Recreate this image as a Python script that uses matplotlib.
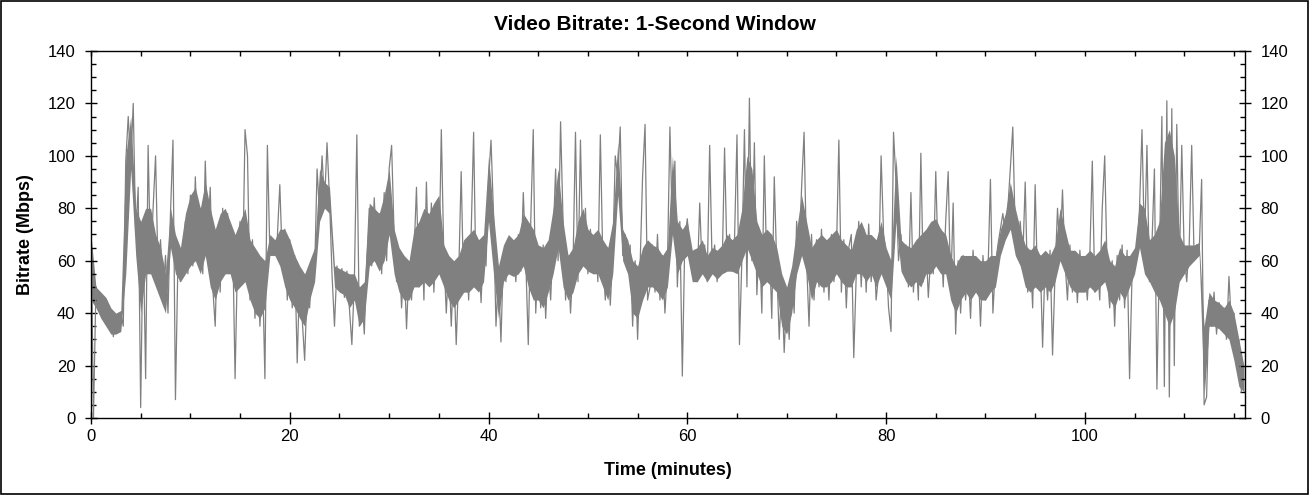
import numpy as np
import matplotlib
matplotlib.use('Agg')
import matplotlib.pyplot as plt
from matplotlib.ticker import MultipleLocator
from matplotlib.patches import Rectangle

plt.rcParams['font.family'] = ['Liberation Sans', 'DejaVu Sans']

# bitrate (Mbps), one value every quarter minute (peaks and dips)
step_min = 0.25
bitrate = [
    # 0 - 5 min
    75, 0, 50, 44, 47, 40, 45, 36, 41, 31, 38, 33, 40, 35, 98, 115, 96, 120, 70, 88,
    # 5 - 10
    4, 72, 15, 104, 58, 80, 100, 55, 68, 45, 62, 40, 78, 106, 7, 60, 52, 63, 75, 55,
    # 10 - 15
    85, 58, 92, 62, 80, 55, 98, 68, 88, 50, 35, 72, 48, 80, 55, 78, 58, 70, 15, 62,
    # 15 - 20
    75, 52, 110, 100, 45, 68, 38, 62, 35, 58, 15, 104, 63, 68, 64, 69, 89, 60, 72, 45,
    # 20 - 25
    68, 42, 62, 21, 55, 38, 22, 50, 42, 60, 55, 95, 78, 100, 82, 105, 84, 55, 35, 58,
    # 25 - 30
    50, 57, 46, 56, 42, 28, 52, 108, 35, 48, 32, 60, 80, 58, 84, 62, 78, 55, 86, 60,
    # 30 - 35
    95, 104, 70, 52, 64, 42, 60, 34, 58, 45, 62, 88, 50, 75, 45, 90, 55, 82, 48, 70,
    # 35 - 40
    55, 110, 62, 40, 60, 35, 58, 28, 55, 94, 48, 66, 45, 70, 109, 50, 66, 44, 68, 58,
    # 40 - 45
    90, 106, 78, 35, 55, 29, 62, 52, 68, 55, 66, 52, 70, 56, 86, 60, 28, 75, 110, 40,
    # 45 - 50
    62, 42, 66, 38, 60, 45, 68, 95, 60, 113, 75, 45, 62, 40, 58, 109, 52, 106, 60, 80,
    # 50 - 55
    55, 72, 58, 70, 52, 108, 60, 45, 65, 43, 62, 100, 92, 111, 62, 70, 58, 66, 35, 60,
    # 55 - 60
    30, 58, 92, 112, 45, 50, 66, 48, 70, 45, 62, 40, 58, 111, 72, 98, 50, 75, 16, 68,
    # 60 - 65
    76, 62, 55, 64, 52, 82, 56, 66, 52, 104, 58, 66, 52, 64, 56, 103, 60, 70, 56, 68,
    # 65 - 70
    108, 28, 62, 110, 50, 122, 60, 105, 47, 70, 40, 100, 55, 68, 38, 92, 58, 30, 52, 25,
    # 70 - 75
    48, 30, 56, 40, 75, 62, 88, 109, 60, 35, 70, 45, 68, 50, 72, 48, 66, 45, 70, 52,
    # 75 - 80
    62, 106, 48, 68, 42, 65, 70, 23, 55, 75, 50, 72, 48, 74, 52, 68, 45, 55, 100, 70,
    # 80 - 85
    62, 42, 33, 109, 90, 60, 70, 55, 66, 50, 86, 48, 64, 45, 101, 52, 68, 46, 62, 55,
    # 85 - 90
    94, 58, 72, 50, 75, 94, 48, 82, 32, 60, 40, 62, 45, 58, 38, 64, 48, 60, 35, 62,
    # 90 - 95
    45, 55, 91, 40, 58, 66, 72, 78, 70, 80, 95, 111, 70, 62, 75, 60, 90, 48, 64, 42,
    # 95 - 100
    89, 50, 62, 27, 60, 45, 64, 24, 55, 80, 62, 87, 60, 45, 66, 48, 62, 44, 64, 50,
    # 100 - 105
    58, 45, 62, 98, 48, 60, 45, 80, 100, 55, 42, 60, 35, 62, 45, 66, 42, 64, 15, 55,
    # 105 - 110
    58, 62, 80, 110, 65, 104, 52, 66, 95, 11, 60, 115, 12, 121, 8, 118, 20, 112, 55, 104,
    # 110 - 115
    62, 52, 66, 104, 60, 66, 63, 91, 5, 8, 45, 35, 48, 32, 44, 36, 42, 30, 54, 35,
    # 115 - end
    40, 20, 30, 10,
]

# dense core of the trace, low / high edge every half minute
band_step_min = 0.5
band_low = [
    45, 42, 38, 35, 32, 32, 33, 55, 95, 62,
    40, 55, 55, 50, 45, 40, 65, 55, 52, 55,
    58, 60, 55, 62, 50, 45, 52, 55, 55, 48,
    50, 52, 45, 40, 38, 42, 62, 62, 58, 50,
    45, 42, 38, 35, 45, 52, 75, 80, 78, 50,
    48, 47, 42, 45, 35, 38, 58, 60, 56, 60,
    70, 55, 48, 45, 45, 50, 50, 52, 50, 52,
    55, 50, 45, 42, 45, 48, 48, 50, 48, 52,
    75, 55, 38, 52, 55, 54, 55, 58, 50, 45,
    45, 42, 48, 55, 65, 50, 45, 48, 55, 58,
    56, 55, 55, 50, 45, 55, 85, 60, 55, 40,
    38, 45, 50, 50, 48, 45, 50, 70, 55, 60,
    62, 52, 52, 55, 52, 55, 53, 55, 56, 56,
    55, 60, 65, 60, 55, 50, 52, 50, 48, 35,
    32, 40, 55, 62, 55, 45, 52, 50, 50, 52,
    55, 52, 50, 50, 55, 55, 52, 55, 50, 55,
    50, 45, 75, 56, 52, 50, 52, 50, 55, 55,
    58, 55, 55, 45, 40, 45, 48, 45, 48, 45,
    45, 48, 50, 62, 68, 72, 62, 58, 50, 48,
    50, 48, 50, 48, 52, 60, 55, 50, 48, 48,
    48, 50, 48, 50, 52, 45, 42, 48, 45, 50,
    55, 65, 55, 52, 48, 45, 40, 35, 40, 52,
    55, 58, 60, 62, 8, 35, 35, 34, 32, 30,
    22, 12, 10,
]
band_high = [
    70, 50, 48, 46, 42, 40, 41, 100, 115, 80,
    75, 80, 80, 70, 65, 55, 80, 70, 65, 78,
    85, 88, 80, 90, 80, 72, 78, 80, 75, 70,
    75, 80, 68, 65, 62, 60, 70, 68, 72, 72,
    68, 62, 58, 55, 60, 65, 95, 90, 88, 58,
    57, 56, 55, 55, 50, 52, 82, 80, 78, 85,
    95, 72, 65, 62, 60, 72, 75, 80, 78, 82,
    85, 66, 62, 60, 62, 68, 70, 72, 68, 70,
    100, 78, 58, 66, 70, 68, 70, 78, 75, 72,
    66, 65, 68, 80, 95, 75, 62, 65, 75, 80,
    72, 70, 72, 68, 65, 75, 105, 72, 68, 60,
    58, 65, 68, 66, 65, 62, 65, 100, 75, 72,
    75, 64, 65, 68, 62, 65, 64, 66, 70, 68,
    70, 80, 100, 95, 75, 70, 72, 70, 65, 55,
    50, 58, 72, 85, 75, 65, 68, 70, 68, 70,
    72, 68, 66, 64, 72, 75, 70, 70, 68, 75,
    65, 60, 100, 68, 66, 65, 68, 70, 72, 75,
    76, 72, 70, 62, 58, 62, 62, 62, 62, 60,
    60, 62, 62, 72, 78, 90, 80, 72, 66, 64,
    66, 62, 64, 62, 66, 80, 72, 64, 64, 62,
    62, 64, 62, 64, 68, 60, 58, 65, 62, 62,
    65, 82, 80, 68, 70, 75, 105, 110, 100, 70,
    66, 66, 66, 67, 35, 48, 45, 44, 42, 45,
    40, 30, 20,
]

time_min = np.arange(len(bitrate)) * step_min
band_time = np.arange(len(band_low)) * band_step_min

fig = plt.figure(figsize=(13.09, 4.95), dpi=100)
ax = fig.add_axes([0.0695, 0.1556, 0.8815, 0.7414])

ax.fill_between(band_time, band_low, band_high, color='#808080', linewidth=0)
ax.plot(time_min, bitrate, color='#808080', linewidth=0.9)

ax.set_xlim(0, 116.1)
ax.set_ylim(0, 140)
ax.xaxis.set_major_locator(MultipleLocator(20))
ax.xaxis.set_minor_locator(MultipleLocator(5))
ax.yaxis.set_major_locator(MultipleLocator(20))
ax.yaxis.set_minor_locator(MultipleLocator(5))

ax.tick_params(which='major', direction='inout', length=8.5, width=1,
               labelsize=12, bottom=True, left=True, right=True, top=True,
               labelright=True)
ax.tick_params(which='minor', direction='in', length=3.6, width=1,
               bottom=True, left=True, right=True, top=True)
ax.tick_params(axis='x', which='major', pad=4)
ax.tick_params(axis='y', which='major', pad=7)
# top edge: short inward ticks only
for t in ax.xaxis.get_major_ticks():
    t.tick2line.set_markersize(3.6)
    t.tick2line.set_marker(3)

for s in ax.spines.values():
    s.set_linewidth(1)

fig.text(0.5, 0.951, 'Video Bitrate: 1-Second Window', fontsize=15,
         fontweight='bold', ha='center', va='center')
ax.set_xlabel('Time (minutes)', fontsize=13, fontweight='bold', labelpad=13)
ax.set_ylabel('Bitrate (Mbps)', fontsize=13, fontweight='bold', labelpad=10)

fig.patches.append(Rectangle((0.001, 0.002), 0.998, 0.996, transform=fig.transFigure,
                             fill=False, edgecolor='black', linewidth=1.2))

fig.savefig('out.png', dpi=100)
